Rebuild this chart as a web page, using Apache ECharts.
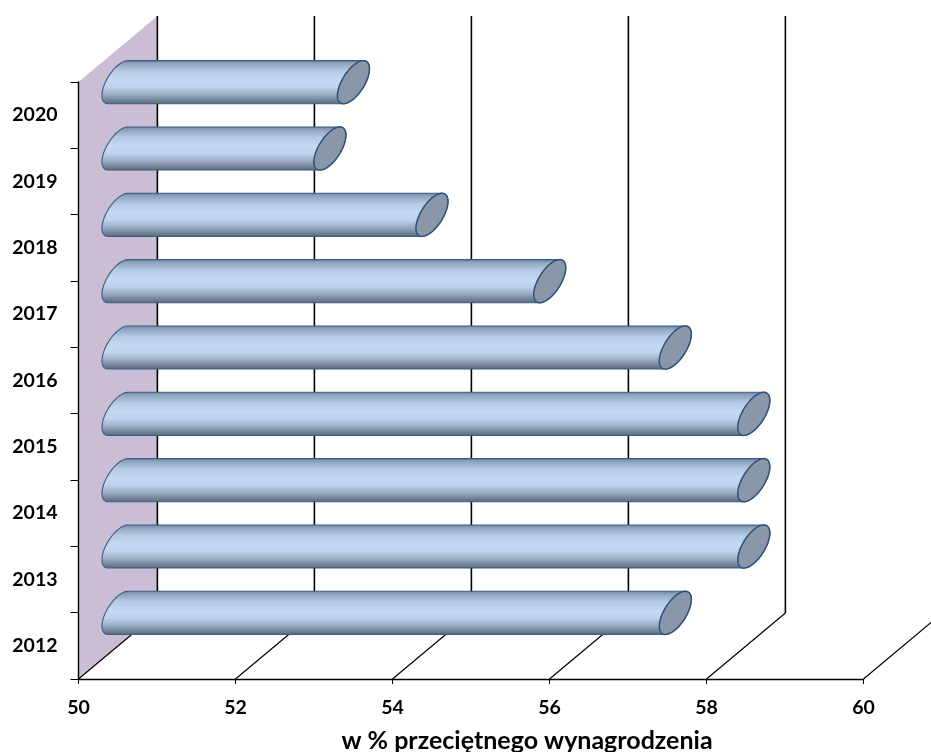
<!DOCTYPE html>
<html><head><meta charset="utf-8">
<style>html,body{margin:0;padding:0;background:#fff}#c{width:931px;height:752px}</style>
<script src="https://cdn.jsdelivr.net/npm/echarts@6/dist/echarts.min.js"></script>
</head><body><div id="c"></div>
<script>
const years = ['2012','2013','2014','2015','2016','2017','2018','2019','2020'];
const values = [57.1,58.1,58.1,58.1,57.1,55.5,54.0,52.7,53.0];
const xTicks = [50,52,54,56,58,60];
const axisTitle = 'w % przeciętnego wynagrodzenia';
const FONT = 'Lato';

const chart = echarts.init(document.getElementById('c'), null, {renderer:'canvas'});

function depth(api){ const s = api.size([1,1]); return {dx:s[0]*1.005, dy:-s[1]*0.995, band:s[1]}; }

function renderWall(params, api){
  const cs = params.coordSys, d = depth(api);
  const x = api.coord([api.value(0), years[0]])[0];
  const top = cs.y, bot = cs.y + cs.height;
  return {type:'polygon', shape:{points:[[x,bot],[x+d.dx,bot+d.dy],[x+d.dx,top+d.dy],[x,top]]},
    style:{fill:'#cbbed4', stroke:null}};
}
function renderGrid(params, api){
  const cs = params.coordSys, d = depth(api);
  const x = api.coord([api.value(0), years[0]])[0];
  const top = cs.y, bot = cs.y + cs.height;
  return {type:'group', children:[
    {type:'line', shape:{x1:x,y1:bot,x2:x+d.dx,y2:bot+d.dy}, style:{stroke:'#000',lineWidth:1.2}},
    {type:'line', shape:{x1:x+d.dx,y1:bot+d.dy,x2:x+d.dx,y2:top+d.dy}, style:{stroke:'#000',lineWidth:1.6}}
  ]};
}
function ringPoint(c, t, A, B, C){
  return [c[0] + Math.sin(t)*C, c[1] - Math.cos(t)*A - Math.sin(t)*B];
}
function renderBar(params, api){
  const d = depth(api);
  const r = d.band*0.325;
  const C = d.dx*0.203, B = -d.dy*0.203;
  const A = Math.sqrt(Math.max(r*r - B*B, 1));
  const s0 = api.coord([50, api.value(1)]);
  const s1 = api.coord([api.value(0), api.value(1)]);
  const start = [s0[0]+d.dx/2, s0[1]+d.dy/2];
  const end = [s1[0]+d.dx/2, s1[1]+d.dy/2];
  const t0 = Math.atan2(B, A);
  const N = 40, body = [], cap = [];
  for(let i=0;i<=N;i++){ body.push(ringPoint(start, t0 - i/N*Math.PI, A, B, C)); }
  for(let i=0;i<=N;i++){ body.push(ringPoint(end, t0 + Math.PI - i/N*Math.PI, A, B, C)); }
  for(let i=0;i<N*2;i++){ cap.push(ringPoint(end, i/(N*2)*Math.PI*2, A, B, C)); }
  return {type:'group', children:[
    {type:'polygon', shape:{points:body}, style:{
      fill:{type:'linear',x:0,y:0,x2:0,y2:1,colorStops:[
        {offset:0,color:'#6a809b'},{offset:0.08,color:'#8ea4bf'},{offset:0.25,color:'#b5cae3'},
        {offset:0.45,color:'#c4daf4'},{offset:0.62,color:'#bdd2eb'},{offset:0.78,color:'#9aadc4'},
        {offset:0.92,color:'#6f8094'},{offset:1,color:'#5a6a7c'}]},
      stroke:'#3d5c84', lineWidth:1.1}},
    {type:'polygon', shape:{points:cap}, style:{fill:'#8997a9', stroke:'#2d5180', lineWidth:1.5}}
  ]};
}

chart.setOption({
  animation:false,
  backgroundColor:'#fff',
  title:{text:axisTitle, left:522, top:723, textAlign:'center', textStyle:{fontFamily:FONT,fontWeight:'bold',fontSize:25,color:'#000'}},
  grid:{left:78.5, top:82, width:785, height:597, containLabel:false},
  xAxis:{type:'value', min:50, max:60, interval:2, z:6,
    splitLine:{show:false},
    axisLine:{show:true,onZero:false,lineStyle:{color:'#000',width:1.4}},
    axisTick:{show:true,length:5,lineStyle:{color:'#000',width:1}},
    axisLabel:{margin:19,fontFamily:FONT,fontWeight:'bold',fontSize:19.5,color:'#000',
      customValues:xTicks}},
  yAxis:{type:'category', data:years, z:6,
    splitLine:{show:false},
    axisLine:{show:true,lineStyle:{color:'#000',width:1.4}},
    axisTick:{show:true,length:8,alignWithLabel:false,lineStyle:{color:'#000',width:1}},
    axisLabel:{margin:21,padding:[6,0,0,0],fontFamily:FONT,fontWeight:'bold',fontSize:19.5,color:'#000'}},
  series:[
    {type:'custom', name:'wall', z:1, silent:true, renderItem:renderWall, encode:{x:0}, data:[[xTicks[0]]]},
    {type:'custom', name:'grid', z:2, silent:true, renderItem:renderGrid, encode:{x:0}, data:xTicks.map(v=>[v])},
    {type:'custom', name:'w % przeciętnego wynagrodzenia', z:3, renderItem:renderBar, encode:{x:0,y:1},
      data:values.map((v,i)=>[v,years[i]])}
  ]
});
</script></body></html>
